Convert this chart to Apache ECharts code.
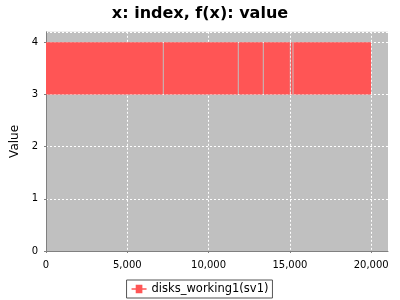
<!DOCTYPE html>
<html>
<head>
<meta charset="utf-8">
<script src="https://cdn.jsdelivr.net/npm/echarts@6/dist/echarts.min.js"></script>
<style>html,body{margin:0;padding:0;background:#fff;}#c{width:400px;height:300px;}</style>
</head>
<body>
<div id="c"></div>
<script>
// Series: disks_working1(sv1) oscillates between 3 and 4 over these index spans
var seriesName = 'disks_working1(sv1)';
var spanStart = [0, 7245, 11857, 13395, 15056, 15221];
var spanEnd   = [7183, 11795, 13333, 14994, 15159, 19990];
var spanLow   = [3, 3, 3, 3, 3, 3];
var spanHigh  = [4, 4, 4, 4, 4, 4];
var yTicks = [0, 1, 2, 3, 4];
var xTicks = [0, 5000, 10000, 15000, 20000];

var data = spanStart.map(function (s, i) { return [s, spanEnd[i], spanLow[i], spanHigh[i]]; });

function fmt(v) { return String(v).replace(/\B(?=(\d{3})+(?!\d))/g, ','); }

var chart = echarts.init(document.getElementById('c'), null, {renderer: 'canvas'});
chart.setOption({
  animation: false,
  title: {
    text: 'x: index, f(x): value', left: 'center', top: 1,
    textStyle: {fontFamily: 'DejaVu Sans', fontWeight: 'bold', fontSize: 16, color: '#000'}
  },
  legend: {
    bottom: 2, left: 'center',
    data: [{name: seriesName, icon: 'path://M0,4h5v-4h8v4h5v2h-5v4h-8v-4h-5z'}],
    itemWidth: 15, itemHeight: 9, itemGap: 4,
    borderColor: '#555', borderWidth: 1, padding: [3, 4, 3, 5], borderRadius: 0,
    textStyle: {fontFamily: 'DejaVu Sans', fontSize: 11.5, color: '#000'}
  },
  grid: {left: 46, right: 12, top: 31.8, bottom: 49, show: true, backgroundColor: '#c0c0c0', borderWidth: 0},
  xAxis: {
    type: 'value', min: 0, max: 21033, interval: 5000, offset: 4,
    axisLine: {show: true, lineStyle: {color: '#808080'}},
    axisTick: {show: true, length: 2, lineStyle: {color: '#808080'}},
    axisLabel: {fontFamily: 'DejaVu Sans', fontSize: 10, color: '#000', margin: 5, showMaxLabel: false,
      formatter: function (v) { return xTicks.indexOf(v) >= 0 ? fmt(v) : ''; }},
    splitLine: {show: true, lineStyle: {color: '#ffffff', type: [2, 2], width: 1}}
  },
  yAxis: {
    type: 'value', min: 0, max: 4.2, interval: 1, offset: 4,
    name: 'Value', nameLocation: 'middle', nameGap: 21, nameRotate: 90,
    nameTextStyle: {fontFamily: 'DejaVu Sans', fontSize: 12, color: '#000'},
    axisLine: {show: true, lineStyle: {color: '#808080'}},
    axisTick: {show: true, length: 2, lineStyle: {color: '#808080'}},
    axisLabel: {fontFamily: 'DejaVu Sans', fontSize: 10, color: '#000', margin: 4, showMaxLabel: false,
      formatter: function (v) { return yTicks.indexOf(v) >= 0 ? String(v) : ''; }},
    splitLine: {show: true, lineStyle: {color: '#ffffff', type: [2, 2], width: 1}}
  },
  series: [{
    name: seriesName, type: 'custom', color: '#ff5555',
    encode: {x: [0, 1], y: [2, 3]},
    data: data,
    renderItem: function (params, api) {
      var p1 = api.coord([api.value(0), api.value(3)]);
      var p2 = api.coord([api.value(1), api.value(2)]);
      return {
        type: 'rect',
        shape: {x: p1[0], y: p1[1], width: p2[0] - p1[0], height: p2[1] - p1[1]},
        style: {fill: '#ff5555'}
      };
    }
  }]
});
</script>
</body>
</html>
